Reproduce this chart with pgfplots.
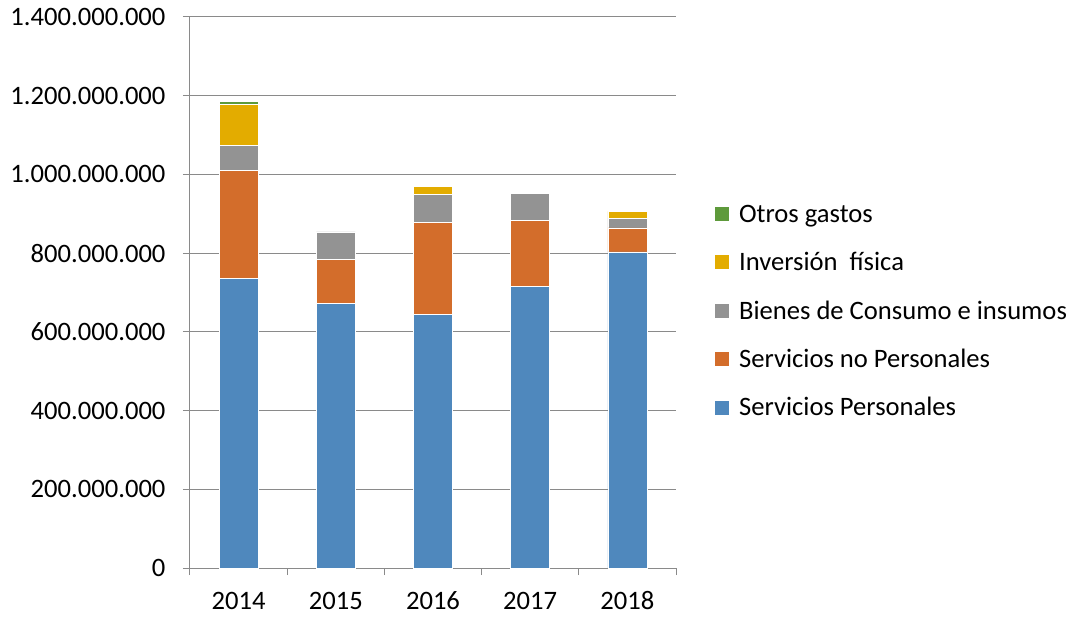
\documentclass[border=0pt]{standalone}
\usepackage{fontspec}
\setmainfont{Carlito}
\usepackage{pgfplots}
\usepackage{pgfplotstable}
\pgfplotsset{compat=1.18}
\definecolor{sp}{HTML}{4F88BD}
\definecolor{snp}{HTML}{D36D2B}
\definecolor{bc}{HTML}{939393}
\definecolor{inv}{HTML}{E3AC00}
\definecolor{og}{HTML}{5E9A3B}
\definecolor{axc}{HTML}{8A8A8A}
\newcommand\chartfont{\fontsize{26.6}{32}\selectfont}

% gasto por objeto, en pesos
\pgfplotstableread{
x   sp         snp        bc        inv        og
0.5 736000000  275000000  63000000  104000000  7000000
1.5 672000000  112000000  70000000  0          0
2.5 645000000  233000000  71000000  21000000   0
3.5 715000000  168000000  68000000  0          0
4.5 803000000  61000000   25000000  17000000   0
}\gastos

\begin{document}
\begin{tikzpicture}
\path (-190pt,-48pt) rectangle (883pt,568pt);
\begin{axis}[at={(0,0)},anchor=south west,scale only axis,width=486pt,height=551pt,
  ybar stacked,bar width=39pt,
  xmin=0,xmax=5,ymin=0,ymax=1400000000,
  xtick={0,1,2,3,4,5},xticklabels={2014,2015,2016,2017,2018},x tick label as interval,
  ytick={0,200000000,400000000,600000000,800000000,1000000000,1200000000,1400000000},
  scaled y ticks=false,
  yticklabel style={xshift=-14pt,/pgf/number format/fixed,/pgf/number format/precision=0,
    /pgf/number format/1000 sep={.},/pgf/number format/assume math mode=true},
  x tick label style={anchor=base,yshift=-34pt},
  axis x line*=bottom,axis y line*=left,
  ymajorgrids,grid style={axc,line width=1pt},
  axis line style={axc,line width=1pt},
  tick style={axc,line width=1pt},
  tick align=outside,major tick length=7pt,
  tick label style={font=\chartfont,text=black},
  reverse legend,
  legend image code/.code={\fill[#1,draw=none] (0pt,-7pt) rectangle (14pt,7pt);},
  legend style={at={(1.08,0.466)},anchor=west,draw=none,fill=none,font=\chartfont,
    inner sep=0pt,row sep=24.5pt,legend cell align=left,
    /tikz/every odd column/.style={column sep=8pt}},
]
\addplot[fill=sp,draw=white,line width=0.6pt] table[x=x,y=sp]{\gastos};
\addlegendentry{Servicios Personales}
\addplot[fill=snp,draw=white,line width=0.6pt] table[x=x,y=snp]{\gastos};
\addlegendentry{Servicios no Personales}
\addplot[fill=bc,draw=white,line width=0.6pt] table[x=x,y=bc]{\gastos};
\addlegendentry{Bienes de Consumo e insumos}
\addplot[fill=inv,draw=white,line width=0.6pt] table[x=x,y=inv]{\gastos};
\addlegendentry{Inversión\ \ física}
\addplot[fill=og,draw=white,line width=0.6pt] table[x=x,y=og]{\gastos};
\addlegendentry{Otros gastos}
\end{axis}
\end{tikzpicture}
\end{document}
